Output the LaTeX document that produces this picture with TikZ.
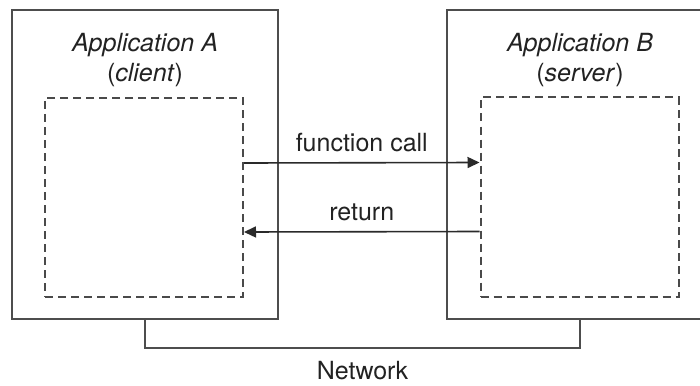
\documentclass[tikz,border=0pt]{standalone}
\usepackage{fontspec}
\setmainfont{TeX Gyre Heros}
\usetikzlibrary{arrows.meta, positioning}
\definecolor{rpcline}{HTML}{4d4d4d}
\definecolor{rpcdark}{HTML}{2a2a2a}
\definecolor{rpctext}{HTML}{222222}

\begin{document}
\begin{tikzpicture}[
    x=1pt, y=-1pt,
    font=\fontsize{25}{30}\selectfont,
    app/.style={rectangle, draw=rpcline, line width=2pt, minimum width=266pt, minimum height=309pt, inner sep=0pt},
    stub/.style={rectangle, draw=rpcdark!85, line width=2pt, dash pattern=on 8pt off 5pt, minimum width=198pt, minimum height=199pt, inner sep=0pt},
    title/.style={align=center, text=rpctext, inner sep=2pt},
    arrow/.style={-{Triangle[length=12pt, width=11pt]}, line width=1.6pt, rpcdark},
    link/.style={line width=2pt, rpcline}
]
\useasboundingbox (0,0) rectangle (700,385);
\clip (0,0) rectangle (700,385);

% the two applications
\node[app] (appA) at (145,164.5) {};
\node[app, right=167pt of appA] (appB) {};
\node[title, below=22pt of appA.north] (titleA) {\textit{Application A}\\(\textit{client})};
\node[title, below=22pt of appB.north] (titleB) {\textit{Application B}\\(\textit{server})};

% stubs
\node[stub] (stubA) at (144,197.5) {};
\node[stub] (stubB) at (579.5,197) {};

\draw[arrow] ([yshift=34.5pt]stubA.east) -- node[title, above=8pt] {function call} ([yshift=34.5pt]stubB.west);
\draw[arrow] ([yshift=-34.5pt]stubB.west) -- node[title, above=8pt] {return} ([yshift=-34.5pt]stubA.east);

% network
\draw[link] (appA.south) -- ++(0,28) -| node[title, pos=0.25, below=10pt] {Network} (appB.south);

\end{tikzpicture}
\end{document}
